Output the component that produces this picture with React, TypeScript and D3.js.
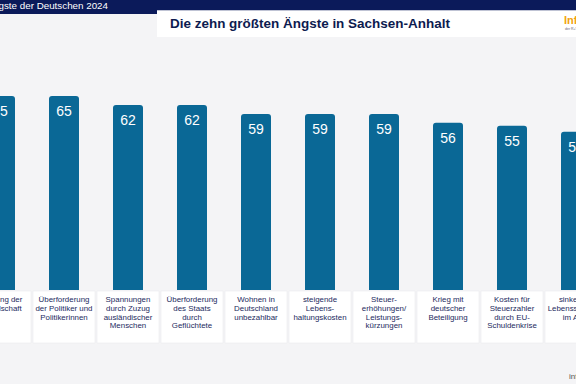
import React, { useEffect, useRef } from "react";
import * as d3 from "d3";

// die zehn größten Ängste in Sachsen-Anhalt (Prozent)
const categories = [
  "Spaltung der Gesellschaft",
  "Überforderung der Politiker",
  "Spannungen Zuzug",
  "Überforderung des Staats",
  "Wohnen unbezahlbar",
  "steigende Lebenshaltungskosten",
  "Steuererhöhungen",
  "Krieg",
  "Kosten EU-Schuldenkrise",
  "sinkender Lebensstandard",
];
const values = [65, 65, 62, 62, 59, 59, 59, 56, 55, 53];
const labelLines = [
  ["Spaltung der", "Gesellschaft"],
  ["Überforderung", "der Politiker und", "Politikerinnen"],
  ["Spannungen", "durch Zuzug", "ausländischer", "Menschen"],
  ["Überforderung", "des Staats", "durch", "Geflüchtete"],
  ["Wohnen in", "Deutschland", "unbezahlbar"],
  ["steigende", "Lebens-", "haltungskosten"],
  ["Steuer-", "erhöhungen/", "Leistungs-", "kürzungen"],
  ["Krieg mit", "deutscher", "Beteiligung"],
  ["Kosten für", "Steuerzahler", "durch EU-", "Schuldenkrise"],
  ["sinkender", "Lebensstandard", "im Alter"],
];
const headerText = "Die größten Ängste der Deutschen 2024";
const titleText = "Die zehn größten Ängste in Sachsen-Anhalt";

const W = 576, H = 384;

export default function App() {
  const ref = useRef<SVGSVGElement>(null);

  useEffect(() => {
    const svg = d3.select(ref.current);
    svg.selectAll("*").remove();
    const font = "Liberation Sans, Arial, sans-serif";

    // squeeze a text to the width it has in the picture
    const fit = (t: any, target: number) => {
      const w = (t.node() as SVGTextElement).getComputedTextLength();
      const fs = +t.attr("font-size");
      if (w > 0) t.attr("font-size", (fs * target) / w);
    };

    svg.append("rect").attr("width", W).attr("height", H).attr("fill", "#f4f4f6");

    // header band
    svg.append("rect").attr("x", 0).attr("y", 0).attr("width", W).attr("height", 10.5).attr("fill", "#0b1a5a");
    svg.append("rect").attr("x", 0).attr("y", 0).attr("width", 157).attr("height", 14).attr("fill", "#0b1a5a");
    svg.append("text").attr("x", 108).attr("y", 9).attr("text-anchor", "end").attr("fill", "#ffffff")
      .attr("font-family", font).attr("font-size", 9.8).text(headerText);

    // title box
    svg.append("rect").attr("x", 157).attr("y", 10.5).attr("width", W - 157).attr("height", 26.5).attr("fill", "#ffffff");
    const title = svg.append("text").attr("x", 170).attr("y", 28).attr("fill", "#0d1b4f")
      .attr("font-family", font).attr("font-size", 13).attr("font-weight", "bold").text(titleText);
    fit(title, 280);
    svg.append("text").attr("x", 564).attr("y", 24).attr("fill", "#f2a20c")
      .attr("font-family", font).attr("font-size", 11).attr("font-weight", "bold").text("Info");
    svg.append("text").attr("x", 565).attr("y", 30).attr("fill", "#667")
      .attr("font-family", font).attr("font-size", 3.5).text("der R+V Versicherung");

    const x = d3.scalePoint<string>().domain(categories).range([0, 576]);
    const y = d3.scaleLinear().domain([0, 65]).range([290, 96]);
    const bw = 30, r = 3;

    const g = svg.append("g");
    categories.forEach((c, i) => {
      const cx = x(c)!;
      const x0 = cx - bw / 2, x1 = cx + bw / 2, top = y(values[i]), bot = y(0);
      const p = d3.path();
      p.moveTo(x0, bot);
      p.lineTo(x0, top + r);
      p.quadraticCurveTo(x0, top, x0 + r, top);
      p.lineTo(x1 - r, top);
      p.quadraticCurveTo(x1, top, x1, top + r);
      p.lineTo(x1, bot);
      p.closePath();
      g.append("path").attr("d", p.toString()).attr("fill", "#0a6896");

      g.append("text").attr("x", cx).attr("y", top + 20).attr("text-anchor", "middle")
        .attr("fill", "#ffffff").attr("font-family", font).attr("font-size", 14).text(values[i]);

      g.append("rect").attr("x", cx - 31).attr("y", 291).attr("width", 62).attr("height", 52)
        .attr("fill", "#ffffff").attr("stroke", "#ebebef").attr("stroke-width", 0.6);
      const t = g.append("text").attr("text-anchor", "middle").attr("fill", "#1c2a5e")
        .attr("font-family", font).attr("font-size", 7.9);
      labelLines[i].forEach((ln, k) => {
        t.append("tspan").attr("x", cx).attr("y", 302 + k * 8.8).text(ln);
      });
    });

    svg.append("text").attr("x", 569).attr("y", 379).attr("fill", "#555")
      .attr("font-family", font).attr("font-size", 8).text("infografik");
  }, []);

  return (
    <svg ref={ref} width={W} height={H}
      style={{ position: "absolute", left: 0, top: 0, display: "block" }} />
  );
}
